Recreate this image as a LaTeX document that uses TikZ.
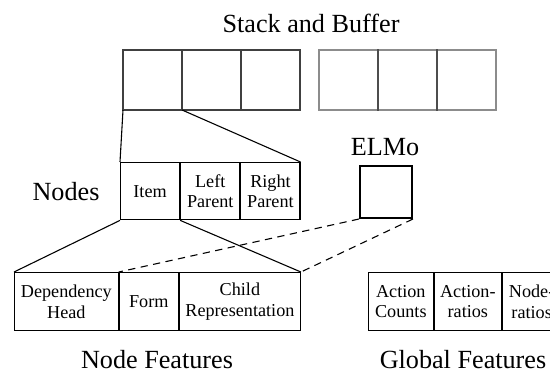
\documentclass[tikz,border=0pt]{standalone}
\usepackage{fontspec}
\setmainfont{Liberation Serif}
\usetikzlibrary{positioning}

\begin{document}
\begin{tikzpicture}[x=0.55pt,y=-0.55pt,
    cell/.style={draw, line width=0.6pt, inner sep=1pt, align=center,
      font=\fontsize{10}{11.2}\selectfont, minimum height=31.5pt},
    stackcell/.style={draw=black!75, line width=1.1pt, outer sep=0pt,
      minimum width=32.5pt, minimum height=33pt},
    buffcell/.style={stackcell, draw=black, draw opacity=0.45},
    title/.style={font=\Large},
    link/.style={line width=0.6pt},
    elmolink/.style={link, dashed, dash pattern=on 4pt off 3pt}]
  \useasboundingbox (0,0) rectangle (550,372);
  % stack and buffer
  \node[title] (sbtitle) at (311,23) {Stack and Buffer};
  \node[stackcell, anchor=north west] (s1) at (123,50) {};
  \node[stackcell, right=0pt of s1] (s2) {};
  \node[stackcell, right=0pt of s2] (s3) {};
  \node[buffcell, anchor=north west] (b1) at (319,50) {};
  \node[buffcell, right=0pt of b1] (b2) {};
  \node[buffcell, right=0pt of b2] (b3) {};
  % nodes
  \node[title] (nodestitle) at (66,192) {Nodes};
  \node[cell, minimum width=32.5pt, anchor=north west] (item) at (120,162) {Item};
  \node[cell, minimum width=32.5pt, right=0pt of item] (lpar) {Left\\Parent};
  \node[cell, minimum width=32.5pt, right=0pt of lpar] (rpar) {Right\\Parent};
  % elmo
  \node[title] (elmotitle) at (385,147) {ELMo};
  \node[draw, line width=1.1pt, minimum width=28.6pt, minimum height=28.6pt,
    anchor=north west] (elmo) at (359,165) {};
  % node features
  \node[cell, minimum width=57pt, minimum height=32pt, anchor=north west] (dep) at (14,272) {Dependency\\Head};
  \node[cell, minimum width=32.5pt, minimum height=32pt, right=0pt of dep] (form) {Form};
  \node[cell, minimum width=66.5pt, minimum height=32pt, right=0pt of form] (child) {Child\\Representation};
  \node[title] (nftitle) at (157,360) {Node Features};
  % global features
  \node[cell, minimum width=35.5pt, minimum height=32pt, anchor=north west] (acount) at (368,272) {Action\\Counts};
  \node[cell, minimum width=37pt, minimum height=32pt, right=0pt of acount] (aratio) {Action-\\ratios};
  \node[cell, minimum width=32pt, minimum height=32pt, right=0pt of aratio] (nratio) {Node-\\ratios};
  \node[title] (gftitle) at (463,360) {Global Features};
  % connectors
  \draw[link] (s1.south west) -- (item.north west);
  \draw[link] (s1.south east) -- (rpar.north east);
  \draw[link] (item.south west) -- (dep.north west);
  \draw[link] (item.south east) -- (child.north east);
  \draw[elmolink] (elmo.south west) -- (form.north west);
  \draw[elmolink] (elmo.south east) -- (child.north east);
\end{tikzpicture}
\end{document}
